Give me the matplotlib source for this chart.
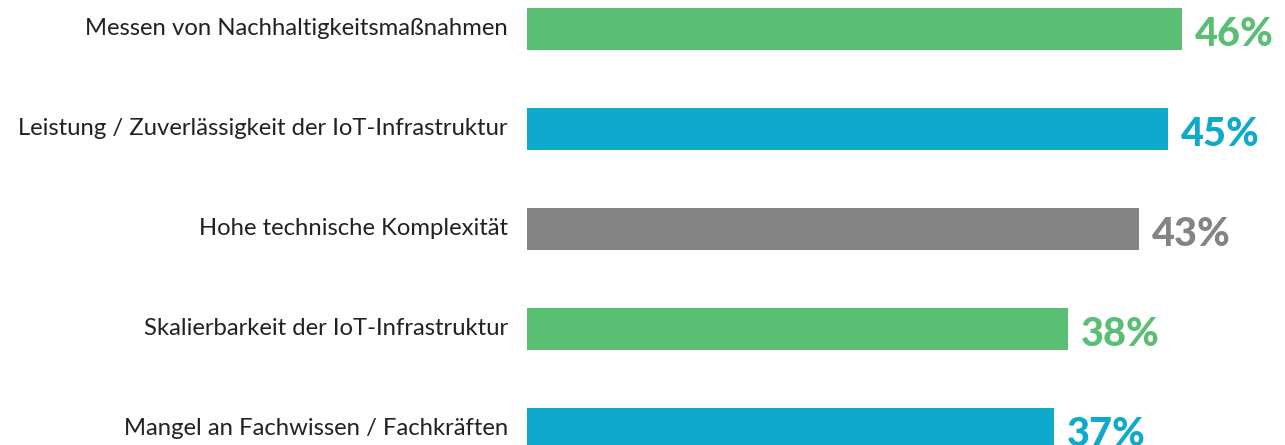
import matplotlib
matplotlib.use("Agg")
import matplotlib.pyplot as plt

categories = [
    "Messen von Nachhaltigkeitsmaßnahmen",
    "Leistung / Zuverlässigkeit der IoT-Infrastruktur",
    "Hohe technische Komplexität",
    "Skalierbarkeit der IoT-Infrastruktur",
    "Mangel an Fachwissen / Fachkräften",
]
values = [46, 45, 43, 38, 37]
value_labels = ["46%", "45%", "43%", "38%", "37%"]
colors = ["#5BBE75", "#0FA9CB", "#848484", "#5BBE75", "#0FA9CB"]

W, H, DPI = 1285, 445, 100
fig = plt.figure(figsize=(W / DPI, H / DPI), dpi=DPI)
fig.patch.set_facecolor("white")

left_px = 527
px_per_unit = 14.24
ax = fig.add_axes([left_px / W, 0, (W - left_px) / W, 1])
ax.set_xlim(0, (W - left_px) / px_per_unit)
# rows are 100 px apart, first row center at 29 px from top
ax.set_ylim((H - 29) / 100.0, -0.29)
ax.axis("off")

ypos = list(range(len(categories)))
ax.barh(ypos, values, height=0.415, color=colors, left=0)

pt = 72.0 / DPI  # points per pixel
for i, (cat, v, lab, c) in enumerate(zip(categories, values, value_labels, colors)):
    ax.annotate(cat, xy=(0, i), xytext=(-19 * pt, -6 * pt), textcoords="offset points",
                ha="right", va="baseline", fontsize=17.2, family="Lato",
                color="#222222", annotation_clip=False)
    ax.annotate(lab, xy=(v, i), xytext=(13 * pt, -17 * pt), textcoords="offset points",
                ha="left", va="baseline", fontsize=28.5, family="Lato",
                fontweight="black", color=c, annotation_clip=False)

fig.savefig("out.png", dpi=DPI, facecolor="white")
